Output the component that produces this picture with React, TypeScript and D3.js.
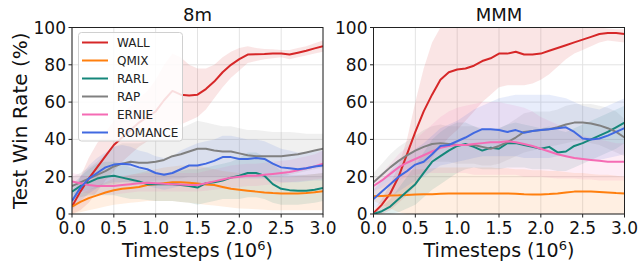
import * as d3 from "d3";

// timesteps (x 10^6)
const steps = [0, 0.1, 0.2, 0.3, 0.4, 0.5, 0.6, 0.7, 0.8, 0.9, 1.0, 1.1, 1.2, 1.3, 1.4, 1.5, 1.6, 1.7, 1.8, 1.9, 2.0, 2.1, 2.2, 2.3, 2.4, 2.5, 2.6, 2.7, 2.8, 2.9, 3.0];

const methods = ["WALL", "QMIX", "RARL", "RAP", "ERNIE", "ROMANCE"];
const colors = ["#d62728", "#ff7f0e", "#15877a", "#808080", "#f56bb4", "#4169e1"];

const xTicks = [0, 0.5, 1.0, 1.5, 2.0, 2.5, 3.0];
const yTicks = [0, 20, 40, 60, 80, 100];

// ---- 8m ----
const wall8m = [4, 12, 19, 25, 31, 37, 41, 45, 49, 52, 55, 61, 66, 64, 63.5, 64, 67, 71, 76, 80, 83, 85.5, 85.7, 85.8, 86, 86, 85.5, 86.5, 87.5, 88.8, 90];
const wall8mLo = [0, 2, 6, 12, 18, 23, 28, 32, 36, 39, 42, 46, 47, 48, 50, 52, 56, 62, 68, 73, 77, 81, 82, 83, 83.5, 84, 83, 84, 85, 86, 87];
const wall8mHi = [8, 20, 30, 38, 44, 50, 54, 58, 62, 66, 72, 80, 86, 84, 80, 78, 78, 80, 84, 87, 89, 90, 89, 88.5, 88.3, 88, 88, 89, 90, 91.5, 93];
const qmix8m = [4, 6.5, 8.5, 10, 11.5, 12.7, 13.5, 14, 14.5, 15.5, 16, 16.5, 17, 17, 16.7, 16.3, 15.8, 15.5, 14.5, 13.5, 13, 12.5, 12, 11.5, 11.2, 11, 11, 11, 11.2, 11.6, 12.2];
const qmix8mLo = [0, 1, 2, 3, 4, 5, 5.5, 6, 6.5, 7, 7, 7, 7, 6.5, 6, 5.5, 5, 4.5, 4, 3.5, 3, 2.8, 2.5, 2.3, 2, 2, 2, 2, 2, 2, 2];
const qmix8mHi = [8, 11, 13, 15, 17, 19, 20, 21, 22, 23, 24, 25, 25.5, 26, 26, 26, 25, 24, 23, 22.5, 22, 21.5, 21, 20.5, 20, 20, 20, 20.5, 21, 21.5, 22];
const rarl8m = [12, 15, 17, 19, 20, 20.5, 19.5, 18.5, 17.5, 16, 16, 16, 16, 15.5, 15, 14.2, 16.5, 17, 18, 19.5, 20.5, 22, 22, 20.5, 16, 13.5, 12.8, 12.5, 12.5, 13, 14];
const rarl8mLo = [8, 9, 10, 10, 10, 10, 9, 8, 8, 7.5, 7, 7, 7, 6.5, 6, 5, 6, 7, 8, 8, 8, 9, 9, 8, 6, 5, 5, 5, 5.5, 6, 7];
const rarl8mHi = [16, 20, 24, 27, 28, 28, 27, 25, 24, 23, 22, 22, 22, 23, 24, 24, 25, 26, 27, 28, 30, 33, 33, 31, 27, 23, 21, 21, 21, 21.5, 22];
const rap8m = [15, 17, 19, 21, 23, 25.5, 27, 28, 27.5, 27.5, 28, 29, 31, 32, 33.5, 35, 35, 34, 33.5, 33.5, 32.5, 31.5, 31, 31, 31, 31, 31.5, 32, 33, 34, 35];
const rap8mLo = [10, 12, 13, 14, 15, 16, 17, 17, 17, 17, 18, 18, 19, 19, 20, 20, 20, 20, 20, 20, 20, 20, 20, 20, 20, 20, 21, 22, 23, 24, 25];
const rap8mHi = [20, 22, 25, 28, 32, 36, 38, 38, 38, 39, 40, 42, 44, 46, 48, 50, 49, 48, 47, 47, 46, 45, 45, 44.5, 44, 44, 44, 43.5, 43, 43, 43];
const ernie8m = [17.5, 16.5, 15.5, 15, 15, 15, 15.5, 16, 16.5, 16.8, 16.5, 16.2, 16, 15.8, 15.6, 15.5, 16.5, 17.5, 18.5, 19.5, 20, 20.5, 20.5, 21, 21.5, 22, 22.5, 23.5, 24.5, 25.5, 27];
const ernie8mLo = [13, 12, 11, 10.5, 10.5, 10.5, 11, 11.5, 12, 12, 12, 12, 12, 12, 12, 12, 12.5, 13, 13.5, 14, 14.5, 15, 15, 15.5, 16, 16.5, 17, 17.5, 18, 18.5, 19];
const ernie8mHi = [22, 21, 20, 20, 20, 20, 20.5, 21, 21.5, 22, 22, 22, 22, 22, 22, 22, 23, 24, 25, 26, 26.5, 27, 27, 27.5, 28, 28.5, 29, 30, 31, 32, 34];
const romance8m = [7, 14, 19, 22, 25, 26.5, 27, 26.5, 25, 24, 22, 21, 22, 24, 26, 26, 27, 28.5, 30.5, 30.5, 29.5, 29.5, 30, 29.5, 27, 25, 24.5, 24, 24.5, 25.5, 26];
const romance8mLo = [2, 7, 11, 14, 16, 17, 17, 17, 16, 15, 14, 13, 14, 15, 16, 16, 17, 18, 19, 19, 19, 19, 19, 19, 18, 17, 17, 17, 17.5, 18, 18];
const romance8mHi = [12, 20, 26, 30, 33, 36, 37, 36, 34, 33, 31, 30, 31, 34, 36, 38, 39, 40, 42, 42, 41, 40, 40, 39, 37, 35, 34, 33, 33, 33.5, 34];

// ---- MMM ----
const wallMMM = [0.5, 5, 11, 20, 32, 44, 55, 64, 72, 76, 77.5, 78, 79.5, 82, 83.5, 86, 86, 87, 85.5, 85.5, 86, 87.5, 89, 90.5, 92, 93.5, 95, 96.5, 97, 97, 96.5];
const wallMMMLo = [0, 0, 2, 6, 10, 15, 22, 30, 36, 41, 45, 50, 55, 60, 64, 68, 69, 69, 69, 70, 72, 75, 79, 83, 86, 88, 90, 92, 93, 92.5, 92];
const wallMMMHi = [2, 8, 16, 26, 40, 60, 78, 92, 100, 102, 102, 102, 102, 102, 102, 102, 102, 102, 102, 102, 102, 102, 102, 101, 100.5, 100, 100, 100, 99.5, 99, 99];
const qmixMMM = [9.5, 9.7, 9.9, 10, 10.2, 10.5, 10.6, 10.6, 10.8, 11, 11, 11, 11, 11, 11, 11, 11, 10.8, 10.6, 10.5, 10.5, 10.7, 11, 11.5, 12, 12, 12, 11.8, 11.5, 11.2, 11];
const qmixMMMLo = [7, 5, 3, 1, 0, 0, 0, 0, 0, 0, 0, 0, 0, 0, 0, 0, 0, 0, 0, 0, 0, 0, 0, 0, 0, 0, 0, 0, 0, 0, 0];
const qmixMMMHi = [12, 15, 18, 21, 23, 24, 24, 24.5, 25, 25, 25, 25, 25, 25, 25, 24.5, 24.5, 24, 24, 23.5, 23.5, 23, 23, 22.5, 22, 22, 21.5, 21, 21, 20.5, 20];
const rarlMMM = [0, 1.5, 4, 8, 12, 16, 22, 28, 31, 34, 36.5, 37.5, 36, 34, 35.5, 35, 38, 38, 37, 36, 35, 36, 33, 33.5, 36.5, 38, 40, 42, 44, 46.5, 49];
const rarlMMMLo = [0, 0, 0, 1, 3, 5, 9, 13, 16, 19, 22, 24, 25, 24, 24, 24, 25, 25, 25, 24, 24, 24, 23, 23, 25, 27, 29, 31, 33, 35, 38];
const rarlMMMHi = [1, 4, 8, 14, 20, 26, 33, 40, 44, 47, 49, 49, 47, 45, 45, 46, 48, 49, 48, 47, 46, 47, 45, 44, 46, 48, 50, 52, 54, 56, 58];
const rapMMM = [17, 21, 25, 28.5, 31.5, 34, 36, 37.5, 38, 37.5, 37, 37, 37, 36, 35, 36.5, 38.5, 41, 44, 44.5, 45, 45.5, 46.5, 48, 49, 49, 48.5, 47.5, 46, 44, 41];
const rapMMMLo = [12, 15, 18, 21, 24, 26, 27, 28, 28, 28, 27, 27, 27, 26, 26, 27, 29, 31, 33, 34, 35, 36, 37, 38, 39, 39, 38, 37, 35, 33, 31];
const rapMMMHi = [22, 27, 32, 36, 39, 42, 45, 47, 48, 47, 47, 47, 47, 46, 45, 46, 48, 51, 54, 55, 55, 55, 56, 58, 59, 59, 59, 58, 57, 55, 51];
const ernieMMM = [15, 18, 21.5, 25, 27.5, 29.5, 31.5, 33.5, 35.5, 36.5, 37, 37, 37.5, 38, 38.5, 38.5, 39, 38.5, 37.5, 36.5, 35, 33.5, 32, 31, 30, 29.5, 29, 28.5, 28, 28, 28];
const ernieMMMLo = [12, 14, 16, 18, 20, 21, 22, 22, 22, 22, 22, 22, 21, 21, 21, 21, 21, 21, 20, 20, 20, 19.5, 19, 19, 19, 18.5, 18.5, 18, 18, 18, 18];
const ernieMMMHi = [18, 22, 27, 32, 36, 40, 44, 48, 52, 55, 57, 58, 59, 60, 60, 60, 59, 58, 57, 55, 52, 50, 48, 46, 44, 42, 41, 40, 39, 38, 38];
const romanceMMM = [8, 12, 16, 20, 23, 26.5, 28, 32, 36.5, 37, 39, 41, 43.5, 45.5, 45.5, 45, 44, 45, 43.5, 44.5, 45, 45.5, 46, 46.5, 44, 40.5, 40, 40.5, 42, 44, 46];
const romanceMMMLo = [3, 6, 9, 12, 15, 18, 20, 23, 26, 27, 28, 29, 30, 31, 31, 31, 31, 31, 30, 30, 30, 30, 31, 31, 30, 29, 29, 29, 30, 31, 32];
const romanceMMMHi = [13, 18, 23, 28, 31, 35, 38, 42, 46, 48, 50, 53, 56, 58, 60, 62, 63, 64, 64, 64, 64, 64, 63, 62, 60, 58, 57, 56, 58, 60, 62];

const panels = [
  {
    title: "8m",
    x0: 72,
    means: [wall8m, qmix8m, rarl8m, rap8m, ernie8m, romance8m],
    lows: [wall8mLo, qmix8mLo, rarl8mLo, rap8mLo, ernie8mLo, romance8mLo],
    highs: [wall8mHi, qmix8mHi, rarl8mHi, rap8mHi, ernie8mHi, romance8mHi],
  },
  {
    title: "MMM",
    x0: 373.5,
    means: [wallMMM, qmixMMM, rarlMMM, rapMMM, ernieMMM, romanceMMM],
    lows: [wallMMMLo, qmixMMMLo, rarlMMMLo, rapMMMLo, ernieMMMLo, romanceMMMLo],
    highs: [wallMMMHi, qmixMMMHi, rarlMMMHi, rapMMMHi, ernieMMMHi, romanceMMMHi],
  },
];

const plotW = 251;
const yTop = 27.5;
const yBot = 214;
const font = "DejaVu Sans, sans-serif";

const yScale = d3.scaleLinear().domain([0, 100]).range([yBot, yTop]);

const Panel = ({ p, idx }: { p: (typeof panels)[0]; idx: number }) => {
  const xScale = d3.scaleLinear().domain([0, 3]).range([p.x0, p.x0 + plotW]);
  const clipId = `clip-${idx}`;

  const line = d3
    .line<number>()
    .x((_, i) => xScale(steps[i]))
    .y((d) => yScale(d));

  const area = (lo: number[], hi: number[]) =>
    d3
      .area<number>()
      .x((_, i) => xScale(steps[i]))
      .y0((_, i) => yScale(lo[i]))
      .y1((_, i) => yScale(hi[i]))(steps);

  return (
    <g>
      <defs>
        <clipPath id={clipId}>
          <rect x={p.x0} y={yTop} width={plotW} height={yBot - yTop} />
        </clipPath>
      </defs>
      {/* grid */}
      <g stroke="#e3e3e3" strokeWidth={1}>
        {xTicks.map((t) => (
          <line key={"gx" + t} x1={xScale(t)} x2={xScale(t)} y1={yTop} y2={yBot} />
        ))}
        {yTicks.map((t) => (
          <line key={"gy" + t} x1={p.x0} x2={p.x0 + plotW} y1={yScale(t)} y2={yScale(t)} />
        ))}
      </g>
      <g clipPath={`url(#${clipId})`}>
        {methods.map((m, i) => (
          <path key={"a" + m} d={area(p.lows[i], p.highs[i]) ?? ""} fill={colors[i]} fillOpacity={0.12} stroke="none" />
        ))}
        {methods.map((m, i) => (
          <path key={"l" + m} d={line(p.means[i]) ?? ""} fill="none" stroke={colors[i]} strokeWidth={2} strokeLinejoin="round" />
        ))}
      </g>
      {/* frame */}
      <rect x={p.x0} y={yTop} width={plotW} height={yBot - yTop} fill="none" stroke="#222" strokeWidth={1} />
      {/* ticks */}
      <g fontFamily={font} fontSize={17} fill="#111">
        {xTicks.map((t) => (
          <g key={"tx" + t}>
            <line x1={xScale(t)} x2={xScale(t)} y1={yBot} y2={yBot + 3.5} stroke="#222" />
            <text x={xScale(t)} y={yBot + 19.5} textAnchor="middle">
              {t.toFixed(1)}
            </text>
          </g>
        ))}
        {yTicks.map((t) => (
          <g key={"ty" + t}>
            <line x1={p.x0 - 3.5} x2={p.x0} y1={yScale(t)} y2={yScale(t)} stroke="#222" />
            <text x={p.x0 - 6} y={yScale(t) + 6} textAnchor="end">
              {t}
            </text>
          </g>
        ))}
      </g>
      <text x={p.x0 + plotW / 2} y={21} textAnchor="middle" fontFamily={font} fontSize={18} fill="#111">
        {p.title}
      </text>
      <text x={p.x0 + plotW / 2} y={257} textAnchor="middle" fontFamily={font} fontSize={19} fill="#111">
        Timesteps (10<tspan dy={-7} fontSize={13}>6</tspan>
        <tspan dy={7}>)</tspan>
      </text>
    </g>
  );
};

const Legend = () => {
  const lx = 78.5;
  const ly = 32.5;
  return (
    <g fontFamily={font} fontSize={12} fill="#222">
      <rect x={lx} y={ly} width={104} height={108.5} rx={3} fill="white" fillOpacity={0.85} stroke="#d0d0d0" />
      {methods.map((m, i) => {
        const y = 42.5 + i * 18;
        return (
          <g key={m}>
            <line x1={82} x2={108} y1={y} y2={y} stroke={colors[i]} strokeWidth={2} />
            <text x={117} y={y + 4.3}>
              {m}
            </text>
          </g>
        );
      })}
    </g>
  );
};

export default function App() {
  return (
    <svg
      width={638}
      height={263}
      viewBox="0 0 638 263"
      style={{ position: "absolute", left: 0, top: 0, background: "white" }}
    >
      {panels.map((p, i) => (
        <Panel key={p.title} p={p} idx={i} />
      ))}
      <Legend />
      <text
        transform={`translate(27,${(yTop + yBot) / 2}) rotate(-90)`}
        textAnchor="middle"
        fontFamily={font}
        fontSize={20}
        fill="#111"
      >
        Test Win Rate (%)
      </text>
    </svg>
  );
}
